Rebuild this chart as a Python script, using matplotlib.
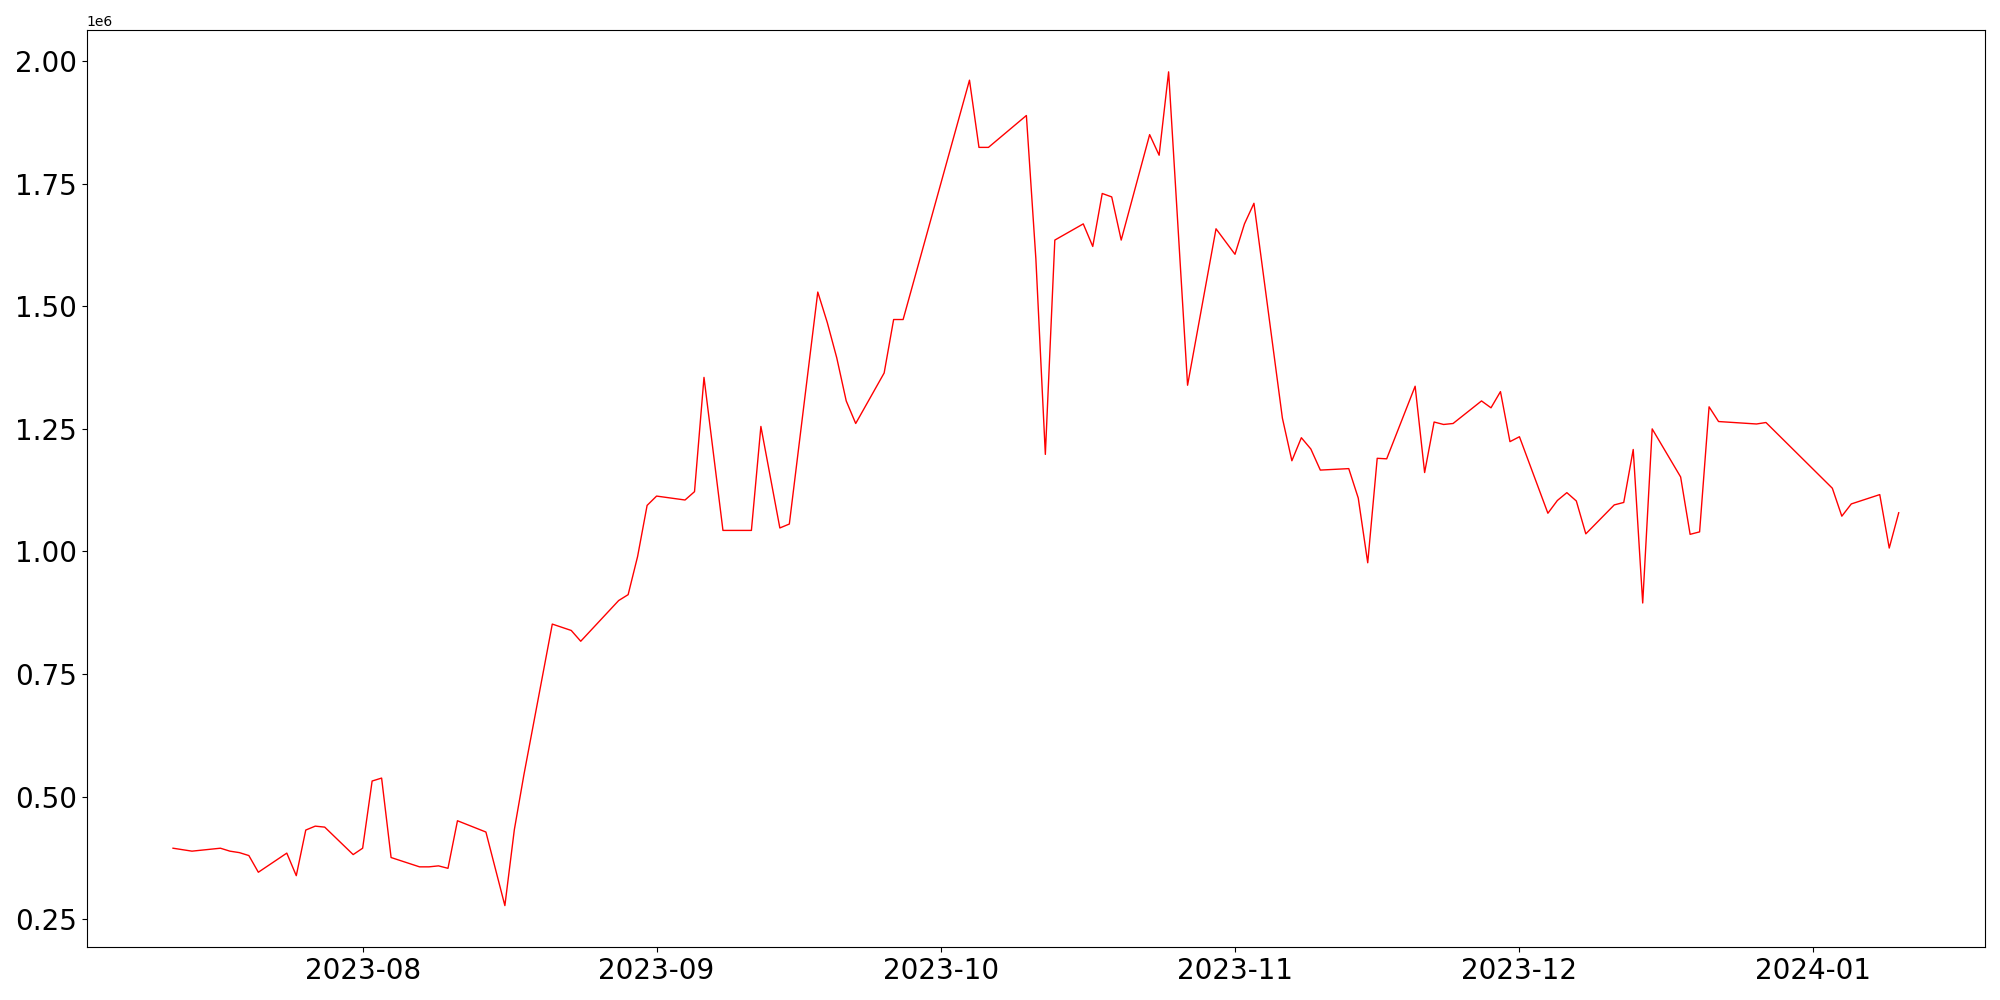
import numpy as np
import pandas as pd
import matplotlib
matplotlib.use('Agg')
import matplotlib.pyplot as plt
import matplotlib.dates as mdates

dates = [
    '2023-07-12', '2023-07-14', '2023-07-17', '2023-07-18', '2023-07-19', '2023-07-20', '2023-07-21',
    '2023-07-24', '2023-07-25', '2023-07-26', '2023-07-27', '2023-07-28', '2023-07-31',
    '2023-08-01', '2023-08-02', '2023-08-03', '2023-08-04', '2023-08-07', '2023-08-08', '2023-08-09',
    '2023-08-10', '2023-08-11', '2023-08-14', '2023-08-16', '2023-08-17', '2023-08-18', '2023-08-21',
    '2023-08-23', '2023-08-24', '2023-08-28', '2023-08-29', '2023-08-30', '2023-08-31',
    '2023-09-01', '2023-09-04', '2023-09-05', '2023-09-06', '2023-09-08', '2023-09-11', '2023-09-12',
    '2023-09-14', '2023-09-15', '2023-09-18', '2023-09-19', '2023-09-20', '2023-09-21', '2023-09-22',
    '2023-09-25', '2023-09-26', '2023-09-27', '2023-10-04', '2023-10-05', '2023-10-06', '2023-10-10',
    '2023-10-11', '2023-10-12', '2023-10-13', '2023-10-16', '2023-10-17', '2023-10-18', '2023-10-19',
    '2023-10-20', '2023-10-23', '2023-10-24', '2023-10-25', '2023-10-27', '2023-10-30', '2023-11-01',
    '2023-11-02', '2023-11-03', '2023-11-06', '2023-11-07', '2023-11-08', '2023-11-09', '2023-11-10',
    '2023-11-13', '2023-11-14', '2023-11-15', '2023-11-16', '2023-11-17', '2023-11-20', '2023-11-21',
    '2023-11-22', '2023-11-23', '2023-11-24', '2023-11-27', '2023-11-28', '2023-11-29', '2023-11-30',
    '2023-12-01', '2023-12-04', '2023-12-05', '2023-12-06', '2023-12-07', '2023-12-08', '2023-12-11',
    '2023-12-12', '2023-12-13', '2023-12-14', '2023-12-15', '2023-12-18', '2023-12-19', '2023-12-20',
    '2023-12-21', '2023-12-22', '2023-12-26', '2023-12-27', '2024-01-03', '2024-01-04', '2024-01-05',
    '2024-01-08', '2024-01-09', '2024-01-10',
]
values = [
    395000, 389000, 395000, 389000, 386000, 380000, 346000,
    385000, 339000, 432000, 440000, 438000, 382000,
    395000, 532000, 538000, 376000, 357000, 357000, 359000,
    354000, 451000, 428000, 278000, 433000, 544000, 852000,
    839000, 817000, 900000, 912000, 990000, 1094000,
    1113000, 1105000, 1122000, 1355000, 1043000, 1043000, 1255000,
    1048000, 1056000, 1529000, 1467000, 1395000, 1307000, 1261000,
    1364000, 1473000, 1473000, 1961000, 1824000, 1824000, 1889000,
    1597000, 1198000, 1635000, 1668000, 1622000, 1730000, 1723000,
    1635000, 1850000, 1808000, 1978000, 1339000, 1658000, 1606000,
    1668000, 1710000, 1272000, 1185000, 1232000, 1209000, 1166000,
    1169000, 1109000, 977000, 1190000, 1189000, 1337000, 1161000,
    1264000, 1259000, 1261000, 1307000, 1293000, 1326000, 1224000,
    1234000, 1078000, 1104000, 1120000, 1103000, 1036000, 1095000,
    1100000, 1208000, 895000, 1250000, 1152000, 1035000, 1040000,
    1295000, 1265000, 1260000, 1263000, 1129000, 1072000, 1097000,
    1116000, 1007000, 1079000,
]

df = pd.DataFrame({'date': pd.to_datetime(dates), 'value': values})

fig = plt.figure(figsize=(20, 10), dpi=100)
ax = fig.add_subplot(111)
ax.plot(df['date'], df['value'], color='red', linewidth=1.0)

ax.xaxis.set_major_locator(mdates.MonthLocator())
ax.xaxis.set_major_formatter(mdates.DateFormatter('%Y-%m'))
ax.tick_params(axis='both', labelsize=20)

fig.tight_layout()
plt.savefig('out.png')
plt.close('all')
